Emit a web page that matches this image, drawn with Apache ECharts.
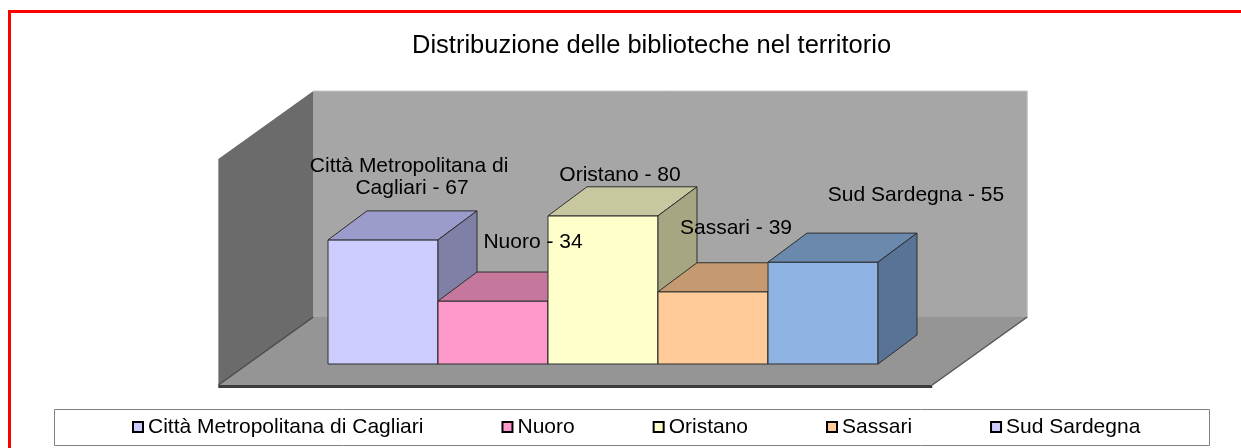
<!DOCTYPE html>
<html><head><meta charset="utf-8">
<script src="https://cdn.jsdelivr.net/npm/echarts@6/dist/echarts.min.js"></script>
<style>html,body{margin:0;padding:0;background:#fff}#c{width:1241px;height:448px}</style>
</head><body><div id="c"></div>
<script>
// ---- data ----
const categories = ['Città Metropolitana di Cagliari', 'Nuoro', 'Oristano', 'Sassari', 'Sud Sardegna'];
const values = [67, 34, 80, 39, 55];
const titleText = 'Distribuzione delle biblioteche nel territorio';
const Y_MAX = 122;

// ---- styles ----
const FONT = 'Arial, "Liberation Sans", sans-serif';
const frontColors = ['#ccccff', '#ff99cc', '#ffffcc', '#ffcc99', '#8fb4e3'];
const topColors   = ['#9b9bcc', '#c6779c', '#c8c8a0', '#c69a70', '#6b88ad'];
const sideColors  = ['#8080a6', '#a0607f', '#a6a683', '#a07c5c', '#587396'];
const legendColors = ['#ccccff', '#ff99cc', '#ffffcc', '#ffcc99', '#ccccff'];
const labelShift = [[29, -63], [40, -59], [17, -41], [23, -64], [93, -67]];
const BAR_DEPTH = [39, -29];
const FLOOR_DEPTH = [95, -68];
const FLOOR_FRONT = 0.309;
const FLOOR_LEFT = 0.73, FLOOR_RIGHT = 0.76;

function renderWalls(params, api) {
  const n = categories.length;
  const c0 = api.coord([0, 0]);
  const bw = api.size([1, 0])[0];
  const wallH = api.size([0, Y_MAX])[1];
  const y0 = c0[1];
  const xL = c0[0] - bw / 2 - FLOOR_LEFT * bw;
  const xR = c0[0] + (n - 0.5) * bw + FLOOR_RIGHT * bw;
  const fx = FLOOR_DEPTH[0], fy = FLOOR_DEPTH[1];
  const f = FLOOR_FRONT, b = 1 - FLOOR_FRONT;
  const FL = [xL - f * fx, y0 - f * fy], FR = [xR - f * fx, y0 - f * fy];
  const BL = [xL + b * fx, y0 + b * fy], BR = [xR + b * fx, y0 + b * fy];
  const BLt = [BL[0], BL[1] - wallH], BRt = [BR[0], BR[1] - wallH], FLt = [FL[0], FL[1] - wallH];
  return {
    type: 'group', children: [
      { type: 'polygon', shape: { points: [BLt, BRt, BR, BL] }, style: { fill: '#a6a6a6' } },
      { type: 'polyline', shape: { points: [BLt, BRt, BR] }, style: { stroke: '#c4c4c4', lineWidth: 1, fill: null } },
      { type: 'polygon', shape: { points: [BLt, BL, FL, FLt] }, style: { fill: '#6b6b6b' } },
      { type: 'polygon', shape: { points: [FL, BL, BR, FR] }, style: { fill: '#959595' } },
      { type: 'polyline', shape: { points: [FL, BL] }, style: { stroke: '#4a4a4a', lineWidth: 1.5, fill: null } },
      { type: 'polyline', shape: { points: [FR, BR] }, style: { stroke: '#555555', lineWidth: 1.5, fill: null } },
      { type: 'polyline', shape: { points: [[FL[0], FL[1] + 1.5], [FR[0], FR[1] + 1.5]] }, style: { stroke: '#3c3c3c', lineWidth: 3, fill: null } }
    ]
  };
}

function renderBar(params, api) {
  const i = api.value(0);
  const top = api.coord([i, api.value(1)]);
  const bot = api.coord([i, 0]);
  const bw = api.size([1, 0])[0];
  const x0 = bot[0] - bw / 2, x1 = bot[0] + bw / 2, yt = top[1], yb = bot[1];
  const dx = BAR_DEPTH[0], dy = BAR_DEPTH[1];
  const edge = { stroke: '#2e2e2e', lineWidth: 1, lineJoin: 'round' };
  return {
    type: 'group', children: [
      { type: 'polygon', shape: { points: [[x0, yt], [x1, yt], [x1, yb], [x0, yb]] }, style: Object.assign({ fill: frontColors[i] }, edge) },
      { type: 'polygon', shape: { points: [[x0, yt], [x0 + dx, yt + dy], [x1 + dx, yt + dy], [x1, yt]] }, style: Object.assign({ fill: topColors[i] }, edge) },
      { type: 'polygon', shape: { points: [[x1, yt], [x1 + dx, yt + dy], [x1 + dx, yb + dy], [x1, yb]] }, style: Object.assign({ fill: sideColors[i] }, edge) }
    ]
  };
}

function renderLabel(params, api) {
  const i = api.value(0);
  const top = api.coord([i, api.value(1)]);
  const bot = api.coord([i, 0]);
  const s = labelShift[i];
  return {
    type: 'text',
    x: bot[0] + s[0], y: top[1] + s[1],
    style: {
      text: categories[i] + ' - ' + api.value(1),
      fill: '#000', fontSize: 21, fontFamily: FONT,
      align: 'center', verticalAlign: 'middle',
      textAlign: 'center', textVerticalAlign: 'middle',
      width: 215, overflow: 'break', lineHeight: 22
    }
  };
}

const series = [{
  type: 'custom', name: 'walls', renderItem: renderWalls, data: [[0, 0]], z: 1, silent: true
}];
categories.forEach((c, i) => {
  series.push({
    type: 'custom', name: c, renderItem: renderBar, data: [[i, values[i]]], z: 2,
    itemStyle: { color: legendColors[i] }
  });
});
series.push({
  type: 'custom', name: 'labels', renderItem: renderLabel, z: 5, silent: true,
  data: values.map((v, i) => [i, v])
});

const chart = echarts.init(document.getElementById('c'), null, { renderer: 'canvas' });
chart.setOption({
  animation: false,
  backgroundColor: '#ffffff',
  title: {
    text: titleText, left: 412, top: 33, padding: 0,
    textStyle: { fontSize: 25.5, fontWeight: 'normal', fontFamily: FONT, color: '#000' }
  },
  grid: { left: 328, right: 363, top: 138, bottom: 84 },
  xAxis: { type: 'category', data: categories, show: false },
  yAxis: { type: 'value', min: 0, max: Y_MAX, show: false },
  legend: {
    left: 132, top: 415, padding: 0, itemGap: 78, itemWidth: 10, itemHeight: 10,
    icon: 'rect', selectedMode: false,
    textStyle: { fontSize: 21, fontFamily: FONT, color: '#000', lineHeight: 24 },
    data: categories.map((c, i) => ({ name: c, itemStyle: { color: legendColors[i], borderColor: '#000', borderWidth: 2 } }))
  },
  graphic: [
    { type: 'polyline', shape: { points: [[9.5, 448], [9.5, 11.5], [1241, 11.5]] }, style: { stroke: '#ff0000', lineWidth: 3, fill: null }, silent: true },
    { type: 'rect', shape: { x: 54.5, y: 409.5, width: 1155, height: 36 }, style: { stroke: '#808080', lineWidth: 1, fill: null }, silent: true }
  ],
  series: series
});
</script>
</body></html>
